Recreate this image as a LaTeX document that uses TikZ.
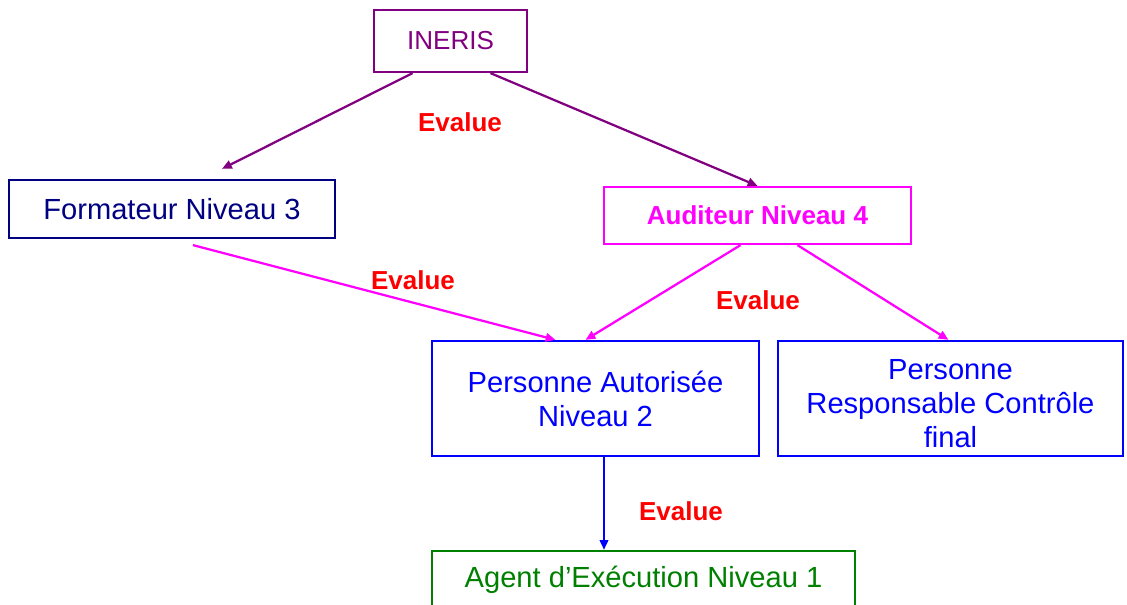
\documentclass[tikz,border=0pt]{standalone}
\usepackage{fontspec}
\setmainfont{Liberation Sans}
\usetikzlibrary{calc,arrows.meta}

\begin{document}
\begin{tikzpicture}[x=0.025cm, y=-0.025cm, line width=1.6pt,
	box/.style={draw, rectangle, inner sep=0pt, align=center, font=\fontsize{20.7}{24.2}\selectfont},
	evalue/.style={text=red, font=\fontsize{18.5}{22}\selectfont\bfseries},
	fleche/.style={-{Triangle[length=7pt,width=6pt]}}]
	\definecolor{violet}{RGB}{128, 0, 128}
	\definecolor{marine}{RGB}{0, 0, 128}
	\definecolor{rose}{RGB}{255, 0, 255}
	\definecolor{bleu}{RGB}{0, 0, 255}
	\definecolor{vert}{RGB}{0, 128, 0}
	\useasboundingbox (0, 0) rectangle (1127, 605);

	% boxes
	\node[box, draw=violet, text=violet, minimum width=3.825cm, minimum height=1.55cm,
		font=\fontsize{18.5}{22}\selectfont] (ineris) at (450.5, 41) {INERIS};
	\node[box, draw=marine, text=marine, minimum width=8.15cm, minimum height=1.45cm] (form) at (172, 209) {Formateur Niveau 3};
	\node[box, draw=rose, text=rose, minimum width=7.675cm, minimum height=1.425cm,
		font=\fontsize{18.5}{22}\selectfont\bfseries] (aud) at (757.5, 215.5) {Auditeur Niveau 4};
	\node[box, draw=bleu, text=bleu, minimum width=8.175cm, minimum height=2.875cm] (pa) at (595.5, 398.5) {Personne Autorisée\\Niveau 2};
	\node[box, draw=bleu, text=bleu, minimum width=8.625cm, minimum height=2.875cm] (pr) at (950.5, 398.5) {\rule{0pt}{0.78cm}Personne\\Responsable Contrôle\\final};
	\node[box, draw=vert, text=vert, minimum width=10.575cm, minimum height=1.45cm] (agent) at (643.5, 580) {Agent d’Exécution Niveau 1};

	% labels
	\node[evalue] (ev1) at (460, 122) {Evalue};
	\node[evalue] (ev2) at (413, 280) {Evalue};
	\node[evalue] (ev3) at (758, 300) {Evalue};
	\node[evalue] (ev4) at (681, 511) {Evalue};

	% arrows
	\coordinate (pa-out) at ($(pa.south)+(8.5, 0)$);
	\draw[fleche, violet] ($(ineris.south)+(-38, 0)$) -- ($(form.north)+(50, -10)$);
	\draw[fleche, violet] ($(ineris.south)+(40, 0)$) -- (aud.north);
	\draw[fleche, rose] ($(form.south)+(21, 6)$) -- ($(pa.north)+(-40, 0)$);
	\draw[fleche, rose] ($(aud.south)+(-17, 0)$) -- ($(pa.north)+(-10, 0)$);
	\draw[fleche, rose] ($(aud.south)+(40, 0)$) -- ($(pr.north)+(-2, 0)$);
	\draw[fleche, bleu] (pa-out) -- (pa-out |- agent.north);
\end{tikzpicture}
\end{document}
